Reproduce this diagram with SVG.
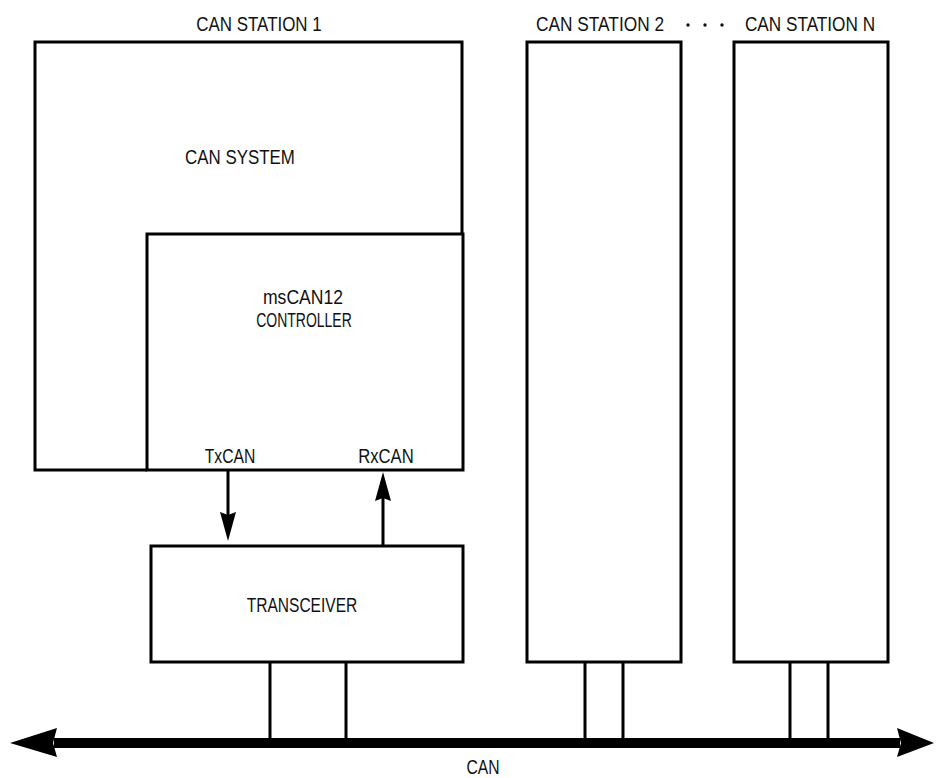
<svg xmlns="http://www.w3.org/2000/svg" width="936" height="778" viewBox="0 0 936 778">
  <style>
    .box { fill: none; stroke: #000; stroke-width: 3; }
    .ln { fill: none; stroke: #000; stroke-width: 3; }
    .head { fill: #000; stroke: none; }
    text { font-family: "Liberation Sans", Arial, sans-serif; font-size: 20px; fill: #111; text-anchor: middle; }
  </style>
  <rect width="936" height="778" fill="#fff"/>

  <g id="station1">
    <text transform="translate(259,30.5) scale(0.847,1)">CAN STATION 1</text>
    <g id="can-system">
      <path class="box" d="M147,470 H35 V42 H462 V234"/>
      <text transform="translate(240,163.5) scale(0.845,1)">CAN SYSTEM</text>
    </g>
    <g id="controller">
      <rect class="box" x="147" y="234" width="316" height="236"/>
      <text transform="translate(303,304) scale(0.88,1)">msCAN12</text>
      <text transform="translate(304,327) scale(0.7,1)">CONTROLLER</text>
      <text transform="translate(230,462.5) scale(0.786,1)">TxCAN</text>
      <text transform="translate(386,462.5) scale(0.833,1)">RxCAN</text>
    </g>
  </g>

  <g id="transceiver">
    <rect class="box" x="151" y="546" width="312" height="116"/>
    <text transform="translate(302,612) scale(0.777,1)">TRANSCEIVER</text>
  </g>

  <g id="station2">
    <rect class="box" x="527" y="42" width="154" height="620"/>
    <text transform="translate(600,30.5) scale(0.865,1)">CAN STATION 2</text>
  </g>

  <g id="ellipsis">
    <circle cx="688" cy="25" r="1.7" fill="#111"/>
    <circle cx="705" cy="25" r="1.7" fill="#111"/>
    <circle cx="722" cy="25" r="1.7" fill="#111"/>
  </g>

  <g id="stationN">
    <rect class="box" x="734" y="42" width="154" height="620"/>
    <text transform="translate(810,30.5) scale(0.86,1)">CAN STATION N</text>
  </g>

  <g id="bus">
    <rect x="54" y="738" width="846" height="10" fill="#000"/>
    <polygon class="head" points="10,743 57,728 53,743 57,757"/>
    <polygon class="head" points="934,743 897,728 901,743 897,757"/>
    <text transform="translate(483,774) scale(0.786,1)">CAN</text>
  </g>

  <g id="connectors">
    <line class="ln" x1="228" y1="470" x2="228" y2="520"/>
    <polygon class="head" points="228,541 220,512 228,515 236,512"/>
    <line class="ln" x1="383" y1="546" x2="383" y2="495"/>
    <polygon class="head" points="383,472 375,501 383,498 391,501"/>
    <line class="ln" x1="270" y1="662" x2="270" y2="739"/>
    <line class="ln" x1="346" y1="662" x2="346" y2="739"/>
    <line class="ln" x1="585" y1="662" x2="585" y2="739"/>
    <line class="ln" x1="623" y1="662" x2="623" y2="739"/>
    <line class="ln" x1="790" y1="662" x2="790" y2="739"/>
    <line class="ln" x1="828" y1="662" x2="828" y2="739"/>
  </g>
</svg>
